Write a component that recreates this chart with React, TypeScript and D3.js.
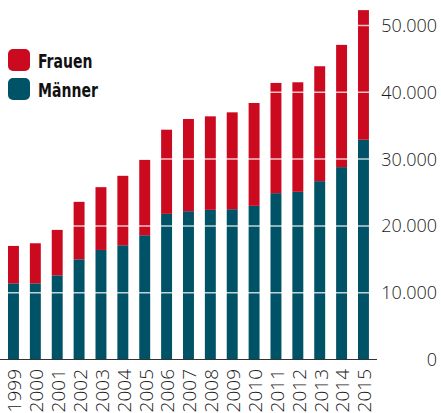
import React from "react";
import * as d3 from "d3";

const years = ["1999","2000","2001","2002","2003","2004","2005","2006","2007","2008","2009","2010","2011","2012","2013","2014","2015"];
const maenner = [11400, 11400, 12600, 15000, 16400, 17100, 18600, 21800, 22200, 22400, 22500, 23000, 24900, 25100, 26700, 28800, 32900];
const frauen = [5600, 6000, 6800, 8600, 9400, 10400, 11300, 12600, 13800, 14000, 14500, 15400, 16500, 16400, 17200, 18300, 19400];
const yTicks = [0, 10000, 20000, 30000, 40000, 50000];
const seriesNames = ["Frauen", "Männer"];
const seriesColors = ["#cc0a1f", "#005266"];

const W = 441, H = 413;

export default function App() {
  const x = d3.scaleBand<string>().domain(years).range([2.53, 374.4]).paddingInner(0.5).paddingOuter(0.25);
  const y = d3.scaleLinear().domain([0, 50000]).range([359.5, 25.5]);
  const fmt = (v: number) => d3.format(",")(v).replace(/,/g, ".");
  const rows = years.map((yr, i) => ({ year: yr, Männer: maenner[i], Frauen: frauen[i] }));
  const stack = d3.stack<any>().keys(["Männer", "Frauen"])(rows);
  const colorOf = (k: string) => (k === "Frauen" ? seriesColors[0] : seriesColors[1]);
  return (
    <svg width={W} height={H} style={{ position: "absolute", left: 0, top: 0, background: "#fff" }}>
      {stack.map((s) => (
        <g key={s.key} fill={colorOf(s.key)}>
          {s.map((d, i) => (
            <rect key={i} x={x(years[i])} width={x.bandwidth()} y={y(d[1])} height={y(d[0]) - y(d[1])} />
          ))}
        </g>
      ))}
      {yTicks.filter((t) => t > 0).map((t) => (
        <line key={t} x1={0} x2={377} y1={y(t)} y2={y(t)} stroke="#ffffff" strokeOpacity={0.75} strokeWidth={1.5} />
      ))}
      <line x1={0} x2={377} y1={y(0)} y2={y(0)} stroke="#333" strokeWidth={1.2} />
      {yTicks.map((t) => (
        <text key={t} x={437} y={y(t)} dy="0.36em" textAnchor="end" fontFamily="'Open Sans', sans-serif" fontWeight={300} fontSize={18} fill="#1a1a1a">
          {fmt(t)}
        </text>
      ))}
      {years.map((yr) => {
        const cx = (x(yr) as number) + x.bandwidth() / 2 + 1;
        return (
          <text key={yr} transform={`translate(${cx},369) rotate(-90)`} dy="0.36em" textAnchor="end" fontFamily="'Open Sans', sans-serif" fontWeight={300} fontSize={19} fill="#1a1a1a">
            {yr}
          </text>
        );
      })}
      {seriesNames.map((n, i) => (
        <g key={n} transform={`translate(8,${49 + i * 29})`}>
          <rect width={22} height={22} rx={5} fill={seriesColors[i]} />
          <text transform="translate(30,19) scale(0.78,1)" fontFamily="'DejaVu Sans Condensed', sans-serif" fontWeight="bold" fontSize={20} fill="#111">
            {n}
          </text>
        </g>
      ))}
    </svg>
  );
}
